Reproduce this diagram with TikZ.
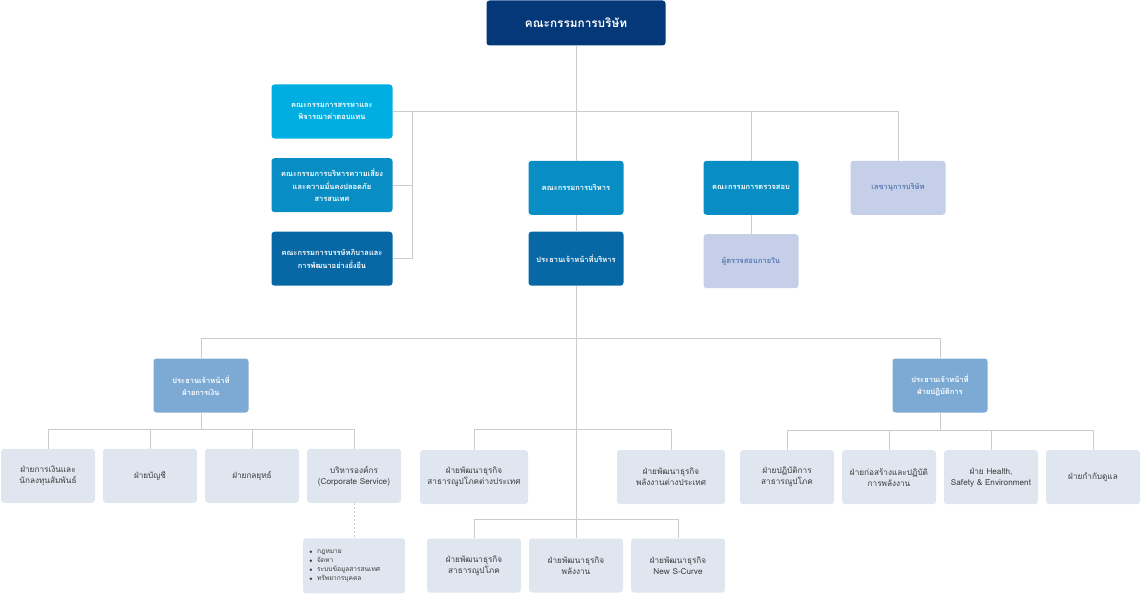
\documentclass[tikz,border=0pt]{standalone}
\usepackage{fontspec}
\usepackage{tikz}
\usetikzlibrary{positioning}
\newfontfamily\thaifont[Script=Thai]{Loma}
\definecolor{boardnavy}{RGB}{4,56,120}
\definecolor{skyblue}{RGB}{0,174,226}
\definecolor{midblue}{RGB}{8,142,196}
\definecolor{deepblue}{RGB}{8,104,166}
\definecolor{lavender}{RGB}{197,208,232}
\definecolor{lavtext}{RGB}{90,120,180}
\definecolor{chiefblue}{RGB}{124,170,212}
\definecolor{unitgray}{RGB}{223,230,240}
\definecolor{unittext}{RGB}{60,60,60}
\definecolor{linegray}{RGB}{204,204,204}
\tikzstyle{box} = [rectangle, rounded corners=3pt, inner sep=2pt, align=center]
\tikzstyle{board} = [box, minimum width=179pt, minimum height=45pt, fill=boardnavy, text=white, font=\thaifont\bfseries\fontsize{11.8}{13}\selectfont]
\tikzstyle{committee} = [box, minimum width=121pt, minimum height=54pt, text=white, font=\thaifont\bfseries\fontsize{7.5}{12.5}\selectfont]
\tikzstyle{execbox} = [box, minimum width=95pt, minimum height=54pt, text=white, font=\thaifont\bfseries\fontsize{7.5}{12.5}\selectfont]
\tikzstyle{staff} = [box, minimum width=95pt, minimum height=54pt, fill=lavender, text=lavtext, font=\thaifont\bfseries\fontsize{7.5}{12.5}\selectfont]
\tikzstyle{chief} = [box, minimum width=95pt, minimum height=54pt, fill=chiefblue, text=white, font=\thaifont\bfseries\fontsize{7.5}{12.5}\selectfont]
\tikzstyle{unit} = [box, minimum width=94pt, minimum height=54pt, fill=unitgray, text=unittext, font=\thaifont\fontsize{8.2}{11}\selectfont]
\tikzstyle{link} = [draw=linegray, line width=0.8pt]

\begin{document}
\begin{tikzpicture}
			[x=1pt, y=-1pt, node distance=102pt]
			\useasboundingbox (0,0) rectangle (1141,594);
			% board and committees
			\node (board) [board] at (576,23) {คณะกรรมการบริษัท};
			\node (nomin) [committee, fill=skyblue] at (332,111.5) {คณะกรรมการสรรหาและ\\พิจารณาค่าตอบแทน};
			\node (risk) [committee, fill=midblue] at (332,185.2) {คณะกรรมการบริหารความเสี่ยง\\และความมั่นคงปลอดภัย\\สารสนเทศ};
			\node (govern) [committee, fill=deepblue] at (332,258.7) {คณะกรรมการบรรษัทภิบาลและ\\การพัฒนาอย่างยั่งยืน};
			\node (execom) [execbox, fill=midblue] at (576,187.8) {คณะกรรมการบริหาร};
			\node (ceo) [execbox, fill=deepblue] at (576,258.7) {ประธานเจ้าหน้าที่บริหาร};
			\node (audit) [execbox, fill=midblue] at (751,187.8) {คณะกรรมการตรวจสอบ};
			\node (inaudit) [staff] at (751,261.2) {ผู้ตรวจสอบภายใน};
			\node (secr) [staff] at (898,187.8) {เลขานุการบริษัท};
			% chiefs
			\node (cfo) [chief] at (201,385.5) {ประธานเจ้าหน้าที่\\ฝ่ายการเงิน};
			\node (coo) [chief] at (940,385.5) {ประธานเจ้าหน้าที่\\ฝ่ายปฏิบัติการ};
			% finance units
			\node (fin) [unit] at (48,475.8) {ฝ่ายการเงินและ\\นักลงทุนสัมพันธ์};
			\node (acct) [unit, right of=fin] {ฝ่ายบัญชี};
			\node (strat) [unit, right of=acct] {ฝ่ายกลยุทธ์};
			\node (corp) [unit, right of=strat] {บริหารองค์กร\\(Corporate Service)};
			\node (corplist) [unit, minimum width=102pt, minimum height=55pt, text width=90pt, inner xsep=6pt, align=left, font=\thaifont\fontsize{6.6}{9}\selectfont] at (354,565.8)
				{{\tiny$\bullet$}\ \ กฎหมาย\\{\tiny$\bullet$}\ \ จัดหา\\{\tiny$\bullet$}\ \ ระบบข้อมูลสารสนเทศ\\{\tiny$\bullet$}\ \ ทรัพยากรบุคคล};
			% business development units
			\node (futil) [unit, minimum width=108pt] at (474,477) {ฝ่ายพัฒนาธุรกิจ\\สาธารณูปโภคต่างประเทศ};
			\node (fenergy) [unit, minimum width=108pt] at (671,477) {ฝ่ายพัฒนาธุรกิจ\\พลังงานต่างประเทศ};
			\node (energy) [unit] at (576,565.5) {ฝ่ายพัฒนาธุรกิจ\\พลังงาน};
			\node (util) [unit, left of=energy] {ฝ่ายพัฒนาธุรกิจ\\สาธารณูปโภค};
			\node (newsc) [unit, right of=energy] {ฝ่ายพัฒนาธุรกิจ\\New S-Curve};
			% operation units
			\node (oputil) [unit] at (787,477.2) {ฝ่ายปฏิบัติการ\\สาธารณูปโภค};
			\node (build) [unit, right of=oputil] {ฝ่ายก่อสร้างและปฏิบัติ\\การพลังงาน};
			\node (hse) [unit, right of=build] {ฝ่าย Health,\\Safety \& Environment};
			\node (regul) [unit, right of=hse] {ฝ่ายกำกับดูแล};
			% connectors
			\coordinate (govtop) at (412,111.5);
			\coordinate (execbus) at (576,338.3);
			\coordinate (cfobus) at (201,429.3);
			\coordinate (coobus) at (940,430.7);
			\coordinate (fbus) at (576,429.3);
			\coordinate (lbus) at (576,519.3);
			\draw [link] (board) -- (execom);
			\draw [link] (nomin.east) -| (secr.north);
			\draw [link] (audit.north) -- (audit.north |- nomin.east);
			\draw [link] (govtop) |- (govern.east);
			\draw [link] (risk.east) -- (risk.east -| govtop);
			\draw [link] (execom) -- (ceo);
			\draw [link] (audit) -- (inaudit);
			\draw [link] (ceo) -- (energy);
			\draw [link] (cfo.north) |- (execbus) -| (coo.north);
			\draw [link] (cfo) -- (cfobus);
			\draw [link] (fin.north) |- (cfobus) -| (corp.north);
			\draw [link] (acct.north) -- (acct.north |- cfobus);
			\draw [link] (strat.north) -- (strat.north |- cfobus);
			\draw [link] (corp) -- (corplist) [dash pattern=on 2pt off 2pt];
			\draw [link] (futil.north) |- (fbus) -| (fenergy.north);
			\draw [link] (util.north) |- (lbus) -| (newsc.north);
			\draw [link] (coo) -- (coobus);
			\draw [link] (oputil.north) |- (coobus) -| (regul.north);
			\draw [link] (build.north) -- (build.north |- coobus);
			\draw [link] (hse.north) -- (hse.north |- coobus);
		\end{tikzpicture}
\end{document}
